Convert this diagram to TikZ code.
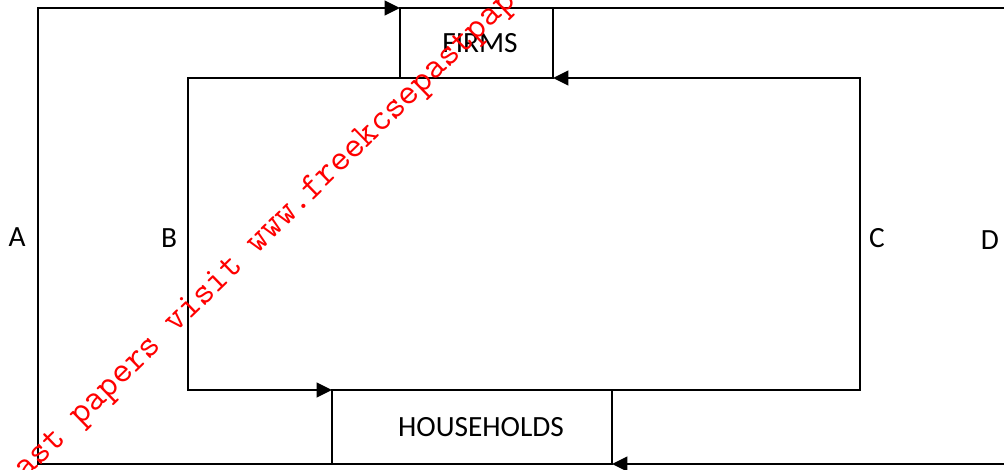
\documentclass[tikz,border=0pt]{standalone}
\usepackage{fontspec}
\setmainfont{Carlito}
\usetikzlibrary{arrows.meta}
\begin{document}
\begin{tikzpicture}[x=0.75pt,y=-0.75pt,
  box/.style={draw, line width=1pt, inner sep=0pt, outer sep=0pt, font=\fontsize{22}{24}\selectfont},
  lbl/.style={inner sep=0pt, font=\fontsize{22}{24}\selectfont},
  flow/.style={draw, line width=1.5pt, -{Triangle[length=11.5pt,width=11pt]}},
  wm/.style={text=red, inner sep=0pt, font=\ttfamily\fontsize{27.7}{28}\selectfont}]
\useasboundingbox (0,0) rectangle (1004,470);
\fill[white] (0,0) rectangle (1004,470);
\clip (0,0) rectangle (1004,470);
% boxes
\node[box, minimum width=114.75pt, minimum height=52.5pt] (firms) at (476.5,43) {\hspace*{5.25pt}FIRMS};
\node[box, minimum width=210pt, minimum height=55.5pt] (hh) at (472,427) {\hspace*{13.5pt}HOUSEHOLDS};
% corner coordinates
\coordinate (oTL) at (38,8);
\coordinate (oBL) at (38,464);
\coordinate (oTR) at (1012,8);
\coordinate (oBR) at (1012,464);
\coordinate (iTL) at (188,78);
\coordinate (iBL) at (188,390);
\coordinate (iTR) at (860,78);
\coordinate (iBR) at (860,390);
% flows
\draw[flow] (hh.south west) -- (oBL) -- (oTL) -- (firms.north west);
\draw[flow] (firms.north east) -- (oTR) -- (oBR) -- (hh.south east);
\draw[flow] (firms.south west) -- (iTL) -- (iBL) -- (hh.north west);
\draw[flow] (hh.north east) -- (iBR) -- (iTR) -- (firms.south east);
% labels
\node[lbl] (A) at (17,237) {A};
\node[lbl] (B) at (169,238) {B};
\node[lbl] (C) at (877,238) {C};
\node[lbl] (D) at (990,240) {D};
% watermark
\node[wm, anchor=base west, rotate=44.2] (wmark) at (12.1,493.1) {past papers visit www.freekcsepastpapers.com};
\end{tikzpicture}
\end{document}
